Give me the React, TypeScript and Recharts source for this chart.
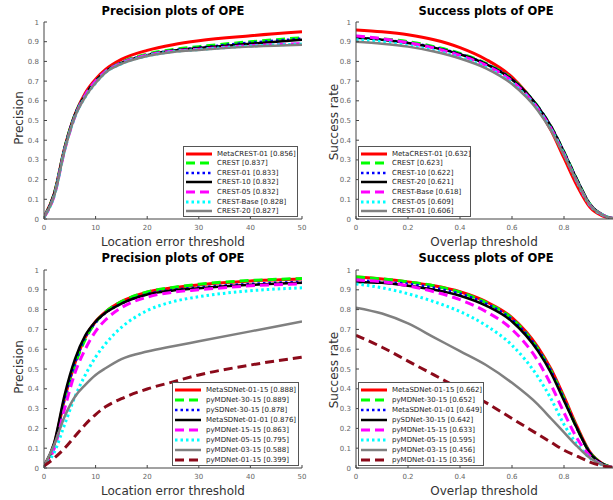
import React from 'react';
import { LineChart, Line, XAxis, YAxis, Legend } from 'recharts';

// ---------- data ----------
const precX = [0, 2, 4, 6, 8, 10, 12, 15, 20, 25, 30, 40, 50];
const succX = [0, 0.1, 0.2, 0.3, 0.4, 0.5, 0.6, 0.7, 0.75, 0.8, 0.85, 0.9, 0.95, 1];
const yTicks = [0, 0.1, 0.2, 0.3, 0.4, 0.5, 0.6, 0.7, 0.8, 0.9, 1];
const precTicks = [0, 10, 20, 30, 40, 50];
const succTicks = [0, 0.2, 0.4, 0.6, 0.8];

// top-left: precision, CREST family
const tlNames = ['MetaCREST-01 [0.856]', 'CREST [0.837]', 'CREST-01 [0.833]', 'CREST-10 [0.832]', 'CREST-05 [0.832]', 'CREST-Base [0.828]', 'CREST-20 [0.827]'];
const tlMetaCrest01 = [0.01, 0.13, 0.36, 0.53, 0.64, 0.71, 0.76, 0.81, 0.856, 0.885, 0.905, 0.93, 0.95];
const tlCrest = [0.01, 0.13, 0.36, 0.53, 0.63, 0.70, 0.75, 0.795, 0.837, 0.86, 0.875, 0.9, 0.92];
const tlCrest01 = [0.01, 0.13, 0.36, 0.53, 0.63, 0.70, 0.75, 0.793, 0.833, 0.856, 0.87, 0.895, 0.915];
const tlCrest10 = [0.01, 0.13, 0.36, 0.53, 0.63, 0.70, 0.75, 0.792, 0.832, 0.855, 0.868, 0.89, 0.91];
const tlCrest05 = [0.01, 0.12, 0.35, 0.52, 0.63, 0.70, 0.75, 0.792, 0.832, 0.852, 0.862, 0.88, 0.89];
const tlCrestBase = [0.01, 0.12, 0.35, 0.52, 0.62, 0.69, 0.745, 0.788, 0.828, 0.85, 0.86, 0.878, 0.888];
const tlCrest20 = [0.01, 0.12, 0.35, 0.52, 0.62, 0.69, 0.745, 0.787, 0.827, 0.848, 0.858, 0.875, 0.885];

// top-right: success, CREST family
const trNames = ['MetaCREST-01 [0.632]', 'CREST [0.623]', 'CREST-10 [0.622]', 'CREST-20 [0.621]', 'CREST-Base [0.618]', 'CREST-05 [0.609]', 'CREST-01 [0.606]'];
const trMetaCrest01 = [0.96, 0.95, 0.935, 0.91, 0.87, 0.81, 0.72, 0.56, 0.45, 0.31, 0.17, 0.06, 0.015, 0];
const trCrest = [0.925, 0.915, 0.9, 0.875, 0.84, 0.79, 0.71, 0.57, 0.47, 0.34, 0.2, 0.075, 0.02, 0];
const trCrest10 = [0.92, 0.91, 0.895, 0.872, 0.838, 0.788, 0.71, 0.57, 0.47, 0.34, 0.2, 0.075, 0.02, 0];
const trCrest20 = [0.92, 0.91, 0.893, 0.87, 0.836, 0.786, 0.708, 0.57, 0.47, 0.34, 0.2, 0.075, 0.02, 0];
const trCrestBase = [0.93, 0.915, 0.895, 0.868, 0.83, 0.78, 0.7, 0.56, 0.46, 0.33, 0.19, 0.07, 0.02, 0];
const trCrest05 = [0.91, 0.9, 0.88, 0.855, 0.82, 0.77, 0.69, 0.555, 0.455, 0.33, 0.19, 0.07, 0.02, 0];
const trCrest01 = [0.9, 0.89, 0.875, 0.85, 0.815, 0.765, 0.685, 0.55, 0.45, 0.325, 0.19, 0.07, 0.02, 0];

// bottom-left: precision, SDNet / MDNet family
const blNames = ['MetaSDNet-01-15 [0.888]', 'pyMDNet-30-15 [0.889]', 'pySDNet-30-15 [0.878]', 'MetaSDNet-01-01 [0.876]', 'pyMDNet-15-15 [0.863]', 'pyMDNet-05-15 [0.795]', 'pyMDNet-03-15 [0.588]', 'pyMDNet-01-15 [0.399]'];
const blMetaSD0115 = [0.01, 0.12, 0.35, 0.53, 0.66, 0.74, 0.79, 0.84, 0.888, 0.91, 0.925, 0.945, 0.955];
const blPyMD3015 = [0.01, 0.11, 0.34, 0.52, 0.65, 0.735, 0.79, 0.84, 0.889, 0.912, 0.928, 0.947, 0.957];
const blPySD3015 = [0.01, 0.12, 0.35, 0.53, 0.66, 0.735, 0.785, 0.83, 0.878, 0.9, 0.912, 0.93, 0.94];
const blMetaSD0101 = [0.01, 0.13, 0.37, 0.55, 0.67, 0.74, 0.785, 0.83, 0.876, 0.897, 0.908, 0.925, 0.935];
const blPyMD1515 = [0.01, 0.1, 0.3, 0.48, 0.6, 0.69, 0.75, 0.81, 0.863, 0.888, 0.9, 0.92, 0.93];
const blPyMD0515 = [0.01, 0.08, 0.22, 0.36, 0.47, 0.56, 0.63, 0.71, 0.795, 0.84, 0.865, 0.895, 0.91];
const blPyMD0315 = [0.01, 0.12, 0.26, 0.36, 0.42, 0.47, 0.505, 0.55, 0.588, 0.615, 0.64, 0.69, 0.74];
const blPyMD0115 = [0.01, 0.05, 0.1, 0.16, 0.22, 0.27, 0.31, 0.35, 0.399, 0.435, 0.47, 0.52, 0.56];

// bottom-right: success, SDNet / MDNet family
const brNames = ['MetaSDNet-01-15 [0.662]', 'pyMDNet-30-15 [0.652]', 'MetaSDNet-01-01 [0.649]', 'pySDNet-30-15 [0.642]', 'pyMDNet-15-15 [0.633]', 'pyMDNet-05-15 [0.595]', 'pyMDNet-03-15 [0.456]', 'pyMDNet-01-15 [0.356]'];
const brMetaSD0115 = [0.965, 0.955, 0.94, 0.92, 0.89, 0.84, 0.76, 0.61, 0.5, 0.36, 0.21, 0.08, 0.02, 0];
const brPyMD3015 = [0.965, 0.955, 0.94, 0.92, 0.888, 0.835, 0.755, 0.6, 0.49, 0.35, 0.2, 0.078, 0.02, 0];
const brMetaSD0101 = [0.95, 0.94, 0.93, 0.91, 0.88, 0.83, 0.75, 0.6, 0.49, 0.35, 0.2, 0.078, 0.02, 0];
const brPySD3015 = [0.94, 0.935, 0.92, 0.9, 0.87, 0.82, 0.74, 0.59, 0.48, 0.34, 0.2, 0.075, 0.02, 0];
const brPyMD1515 = [0.95, 0.94, 0.92, 0.89, 0.85, 0.79, 0.7, 0.54, 0.42, 0.28, 0.15, 0.06, 0.015, 0];
const brPyMD0515 = [0.93, 0.91, 0.88, 0.84, 0.79, 0.72, 0.62, 0.46, 0.35, 0.22, 0.12, 0.05, 0.015, 0];
const brPyMD0315 = [0.81, 0.78, 0.73, 0.66, 0.59, 0.52, 0.43, 0.32, 0.25, 0.18, 0.11, 0.05, 0.015, 0];
const brPyMD0115 = [0.67, 0.61, 0.54, 0.47, 0.4, 0.33, 0.25, 0.17, 0.13, 0.09, 0.06, 0.03, 0.01, 0];

// ---------- styles ----------
type Sty = { color: string; dash?: string; width: number };
const STYLES: Sty[] = [
  { color: '#ff0000', width: 3 },
  { color: '#00ff00', dash: '9 5', width: 3 },
  { color: '#0000ff', dash: '2.5 3', width: 2.5 },
  { color: '#000000', width: 2.5 },
  { color: '#ff00ff', dash: '9 5', width: 3 },
  { color: '#00ffff', dash: '2.5 3', width: 3 },
  { color: '#808080', width: 2.5 },
  { color: '#8b0a1a', dash: '9 5', width: 3 },
];

const FONT = '"DejaVu Sans", Verdana, sans-serif';
const AXIS = '#444';
const TICKTXT = '#666';

const buildRows = (xs: number[], series: number[][]) =>
  xs.map((x, i) => {
    const r: Record<string, number> = { x };
    series.forEach((s, k) => (r['s' + k] = s[i]));
    return r;
  });

const fmt = (v: number) => (Math.round(v * 10) / 10).toString();

const XTick = (props: any) => {
  const { x, y, payload } = props;
  return (
    <g>
      <line x1={x} x2={x} y1={y} y2={y - 3} stroke={AXIS} strokeWidth={1} />
      <text x={x} y={y + 11} textAnchor="middle" fontSize={7} fill={TICKTXT} fontFamily={FONT}>
        {fmt(payload.value)}
      </text>
    </g>
  );
};
const XTopTick = (props: any) => {
  const { x, y } = props;
  return <line x1={x} x2={x} y1={y} y2={y + 3} stroke={AXIS} strokeWidth={1} />;
};
const YTick = (props: any) => {
  const { x, y, payload } = props;
  return (
    <g>
      <line x1={x} x2={x + 3} y1={y} y2={y} stroke={AXIS} strokeWidth={1} />
      <text x={x - 5} y={y + 2.5} textAnchor="end" fontSize={7} fill={TICKTXT} fontFamily={FONT}>
        {fmt(payload.value)}
      </text>
    </g>
  );
};
const YRightTick = (props: any) => {
  const { x, y } = props;
  return <line x1={x} x2={x - 3} y1={y} y2={y} stroke={AXIS} strokeWidth={1} />;
};

type LegendBox = { left: number; top: number; width: number; height: number };

const makeLegend = (names: string[], box: LegendBox) => () => {
  const rowH = (box.height - 4) / names.length;
  return (
    <div
      style={{
        width: box.width,
        height: box.height,
        boxSizing: 'border-box',
        border: '1px solid #555',
        background: '#fff',
        padding: '2px 0',
        fontFamily: FONT,
        fontSize: 7,
        color: '#222',
      }}
    >
      {names.map((n, i) => {
        const s = STYLES[i];
        return (
          <div key={n} style={{ height: rowH, display: 'flex', alignItems: 'center', whiteSpace: 'nowrap' }}>
            <svg width={28} height={6} style={{ marginLeft: 2, marginRight: 3, flex: 'none' }}>
              <line x1={0} x2={26} y1={3} y2={3} stroke={s.color} strokeWidth={s.width} strokeDasharray={s.dash} />
            </svg>
            <span>{n}</span>
          </div>
        );
      })}
    </div>
  );
};

type PanelProps = {
  left: number;
  top: number;
  width: number;
  height: number;
  yAxisWidth: number;
  marginRight: number;
  plotTop: number;
  plotHeight: number;
  rows: Record<string, number>[];
  names: string[];
  xDomain: [number, number];
  xTicks: number[];
  legend: LegendBox;
};

const Panel = (p: PanelProps) => {
  const xAxisH = p.height - p.plotTop - p.plotHeight;
  return (
    <div style={{ position: 'absolute', left: p.left, top: p.top }}>
      <LineChart
        width={p.width}
        height={p.height}
        data={p.rows}
        margin={{ top: p.plotTop, right: p.marginRight, bottom: 0, left: 0 }}
      >
        <XAxis
          dataKey="x"
          type="number"
          domain={p.xDomain}
          ticks={p.xTicks}
          interval={0}
          allowDataOverflow
          height={xAxisH}
          tickSize={0}
          tickMargin={0}
          tickLine={false}
          axisLine={{ stroke: AXIS, strokeWidth: 1 }}
          tick={<XTick />}
        />
        <XAxis
          xAxisId="top"
          orientation="top"
          type="number"
          dataKey="x"
          domain={p.xDomain}
          ticks={p.xTicks}
          interval={0}
          allowDataOverflow
          height={0}
          tickSize={0}
          tickMargin={0}
          tickLine={false}
          axisLine={{ stroke: AXIS, strokeWidth: 1 }}
          tick={<XTopTick />}
        />
        <YAxis
          type="number"
          domain={[0, 1]}
          ticks={yTicks}
          interval={0}
          allowDataOverflow
          width={p.yAxisWidth}
          tickSize={0}
          tickMargin={0}
          tickLine={false}
          axisLine={{ stroke: AXIS, strokeWidth: 1 }}
          tick={<YTick />}
        />
        <YAxis
          yAxisId="right"
          orientation="right"
          type="number"
          domain={[0, 1]}
          ticks={yTicks}
          interval={0}
          allowDataOverflow
          width={0}
          tickSize={0}
          tickMargin={0}
          tickLine={false}
          axisLine={{ stroke: AXIS, strokeWidth: 1 }}
          tick={<YRightTick />}
        />
        {p.names.map((n, i) => {
          const s = STYLES[i];
          return (
            <Line
              key={n}
              dataKey={'s' + i}
              name={n}
              type="monotone"
              stroke={s.color}
              strokeWidth={s.width}
              strokeDasharray={s.dash}
              dot={false}
              activeDot={false}
              isAnimationActive={false}
            />
          );
        })}
        <Legend
          layout="horizontal"
          align="center"
          verticalAlign="middle"
          wrapperStyle={{ left: p.legend.left, top: p.legend.top, width: p.legend.width, height: p.legend.height }}
          content={makeLegend(p.names, p.legend)}
        />
      </LineChart>
    </div>
  );
};

const Txt = ({ x, y, text, size, bold, rotate }: { x: number; y: number; text: string; size: number; bold?: boolean; rotate?: boolean }) => (
  <div
    style={{
      position: 'absolute',
      left: x,
      top: y,
      transform: `translate(-50%, -50%)${rotate ? ' rotate(-90deg)' : ''}`,
      whiteSpace: 'nowrap',
      fontFamily: FONT,
      fontSize: size,
      fontWeight: bold ? 'bold' : 'normal',
      color: bold ? '#000' : '#333',
      lineHeight: 1,
    }}
  >
    {text}
  </div>
);

export default function App() {
  const tlRows = buildRows(precX, [tlMetaCrest01, tlCrest, tlCrest01, tlCrest10, tlCrest05, tlCrestBase, tlCrest20]);
  const trRows = buildRows(succX, [trMetaCrest01, trCrest, trCrest10, trCrest20, trCrestBase, trCrest05, trCrest01]);
  const blRows = buildRows(precX, [blMetaSD0115, blPyMD3015, blPySD3015, blMetaSD0101, blPyMD1515, blPyMD0515, blPyMD0315, blPyMD0115]);
  const brRows = buildRows(succX, [brMetaSD0115, brPyMD3015, brMetaSD0101, brPySD3015, brPyMD1515, brPyMD0515, brPyMD0315, brPyMD0115]);

  return (
    <div style={{ position: 'absolute', left: 0, top: 0, width: 613, height: 500, overflow: 'hidden', background: '#fff' }}>
      <Panel left={0} top={0} width={310} height={250} yAxisWidth={44} marginRight={8} plotTop={22} plotHeight={197}
        rows={tlRows} names={tlNames} xDomain={[0, 50]} xTicks={precTicks}
        legend={{ left: 183, top: 146, width: 115, height: 71 }} />
      <Panel left={306} top={0} width={310} height={250} yAxisWidth={50} marginRight={0} plotTop={22} plotHeight={197}
        rows={trRows} names={trNames} xDomain={[0, 1]} xTicks={succTicks}
        legend={{ left: 52, top: 146, width: 113, height: 71 }} />
      <Panel left={0} top={248} width={310} height={252} yAxisWidth={44} marginRight={8} plotTop={22} plotHeight={198}
        rows={blRows} names={blNames} xDomain={[0, 50]} xTicks={precTicks}
        legend={{ left: 172, top: 134, width: 127, height: 84 }} />
      <Panel left={306} top={248} width={310} height={252} yAxisWidth={50} marginRight={0} plotTop={22} plotHeight={198}
        rows={brRows} names={brNames} xDomain={[0, 1]} xTicks={succTicks}
        legend={{ left: 52, top: 134, width: 126, height: 84 }} />

      <Txt x={173} y={12} text="Precision plots of OPE" size={11.5} bold />
      <Txt x={486} y={12} text="Success plots of OPE" size={11.5} bold />
      <Txt x={173} y={259} text="Precision plots of OPE" size={11.5} bold />
      <Txt x={486} y={259} text="Success plots of OPE" size={11.5} bold />

      <Txt x={173} y={242} text="Location error threshold" size={12} />
      <Txt x={484} y={242} text="Overlap threshold" size={12} />
      <Txt x={173} y={491} text="Location error threshold" size={12} />
      <Txt x={484} y={491} text="Overlap threshold" size={12} />

      <Txt x={19} y={118} text="Precision" size={12} rotate />
      <Txt x={334} y={122} text="Success rate" size={12} rotate />
      <Txt x={19} y={367} text="Precision" size={12} rotate />
      <Txt x={334} y={370} text="Success rate" size={12} rotate />
    </div>
  );
}
